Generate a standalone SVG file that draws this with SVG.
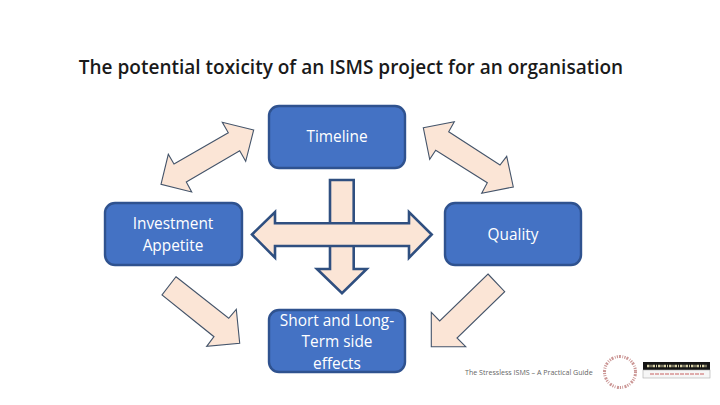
<svg xmlns="http://www.w3.org/2000/svg" width="720" height="405" viewBox="0 0 720 405">
<style>
.box{fill:#4472C4;stroke:#2F528F;stroke-width:2.4}
.lbl{font-family:"Open Sans","Liberation Sans",sans-serif;font-size:15.4px;fill:#fff;text-anchor:middle}
.thin{fill:#FBE5D6;stroke:#44546A;stroke-width:1.1;stroke-linejoin:miter}
.thick{fill:#FBE5D6;stroke:#2F4F80;stroke-width:2.6;stroke-linejoin:miter}
</style>
<rect width="720" height="405" fill="#fff"/>
<text id="title" x="351" y="74" text-anchor="middle" font-family="'Open Sans','Liberation Sans',sans-serif" font-weight="600" font-size="19" fill="#1a1a1a">The potential toxicity of an ISMS project for an organisation</text>
<g id="connectors">
<polygon class="thin" points="253.7,130 222.3,122.3 228.3,132.7 174,164 168.3,154.3 161,184.3 191.7,192 186.3,182 239.7,150.7 245.7,161.3"/>
<polygon class="thin" points="423.3,127.7 454.3,121.7 448.7,131.7 500,165 506.7,156.3 513.3,187 481.7,193.3 487.3,182.7 435.7,150.3 429.7,159.3"/>
<polygon class="thin" points="176,276.7 228.7,318.3 236.3,309.3 239.7,343.3 206.7,346.3 214,336.7 162,295"/>
<polygon class="thin" points="488,274 504.7,291.7 457,338 465.7,346.7 431.3,346.7 431.3,312.3 439.7,321"/>
<polygon class="thick" points="330,180 353.7,180 353.7,269 366.7,269 342,293.3 317,269 330,269"/>
<polygon class="thick" points="252,234.5 275,212 275,223.3 409,223.3 409,212 431.7,234.5 409,257.7 409,246 275,246 275,257.7"/>
</g>
<g id="node-timeline"><rect class="box" x="269" y="106" width="136" height="62" rx="10"/><text class="lbl" x="337" y="142">Timeline</text></g>
<g id="node-investment"><rect class="box" x="105" y="203" width="137" height="62" rx="10"/><text class="lbl" x="173" y="229">Investment</text><text class="lbl" x="173" y="251">Appetite</text></g>
<g id="node-quality"><rect class="box" x="445" y="203" width="136" height="62" rx="10"/><text class="lbl" x="513" y="240">Quality</text></g>
<g id="node-effects"><rect class="box" x="269" y="310" width="136" height="62" rx="10"/><text class="lbl" x="337" y="326">Short and Long-</text><text class="lbl" x="337" y="347">Term side</text><text class="lbl" x="337" y="369">effects</text></g>
<text id="footer" x="465" y="375" font-family="'Open Sans','Liberation Sans',sans-serif" font-size="7.1" fill="#666">The Stressless ISMS – A Practical Guide</text>
<g id="stamp" fill="none">
<circle cx="620" cy="372" r="15.5" stroke="#B56A68" stroke-width="3" stroke-dasharray="1.2 1 2 1.5 .8 1.2" opacity=".7"/>
</g>
<g id="logo">
<rect x="643" y="362" width="67" height="8" fill="#151515"/>
<rect x="643" y="370" width="67" height="8" fill="#f6f6f6" stroke="#aaa" stroke-width=".6"/>
<line x1="647" y1="366" x2="707" y2="366" stroke="#D8D2A8" stroke-width="2.6" stroke-dasharray="2.5 1 1 1"/>
<line x1="650" y1="374" x2="704" y2="374" stroke="#C86060" stroke-width="1.2" stroke-dasharray="4 1"/>
</g>
</svg>
